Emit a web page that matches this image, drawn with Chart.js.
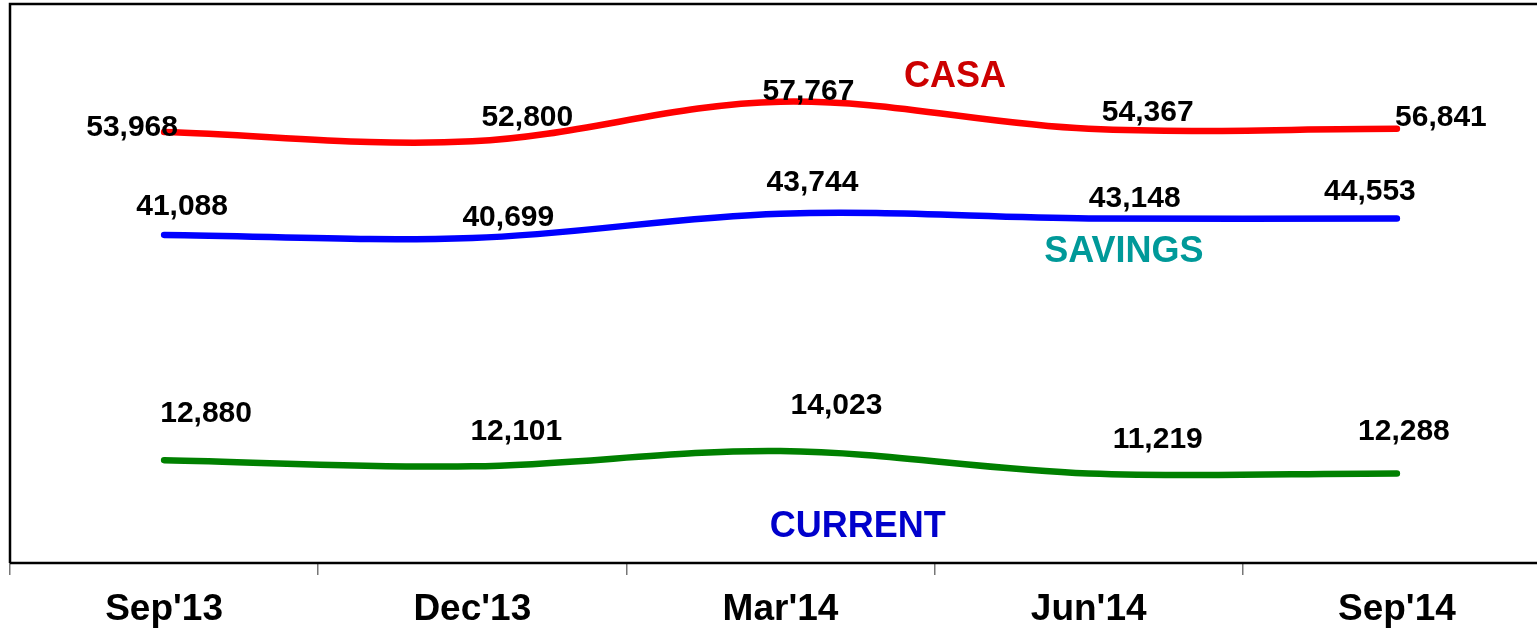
<!DOCTYPE html>
<html>
<head>
<meta charset="utf-8">
<script src="https://cdn.jsdelivr.net/npm/chart.js@4.4.1/dist/chart.umd.min.js"></script>
<style>
  html, body { margin: 0; padding: 0; background: #fff; overflow: hidden; }
  #wrap { width: 1537px; height: 630px; overflow: hidden; }
</style>
</head>
<body>
<div id="wrap"><canvas id="casaChart" width="1560" height="630"></canvas></div>
<script>
// === Datos ===
const quarters = ["Sep'13", "Dec'13", "Mar'14", "Jun'14", "Sep'14"];

// Posición de la línea; en la imagen el punto Sep'14 queda al nivel de Jun'14
const casa    = [53968, 52800, 57767, 54367, 54367];
const savings = [41088, 40699, 43744, 43148, 43148];
const current = [12880, 12101, 14023, 11219, 11219];

// Etiquetas de valor tal como aparecen
const casaLabels    = ["53,968", "52,800", "57,767", "54,367", "56,841"];
const savingsLabels = ["41,088", "40,699", "43,744", "43,148", "44,553"];
const currentLabels = ["12,880", "12,101", "14,023", "11,219", "12,288"];

const Y_MIN = 0, Y_MAX = 70000;

// --- estilo / ubicación de textos (no son datos) ---
const FONT = "'Liberation Sans', Arial, sans-serif";
// desplazamiento (px) de cada etiqueta respecto de su punto
const NUDGE = {
  casa:    [[-32, -4], [55, -24], [28, -10], [59, -16], [44, -11]],
  savings: [[18, -28], [36, -20], [32, -31], [46, -20], [-27, -27]],
  current: [[42, -46], [44, -35], [56, -45], [69, -34], [7, -42]]
};
// nombres de serie, ubicados en coordenadas de datos (índice de categoría, valor)
const SERIES_NAMES = [
  { text: "CASA",    color: "#CC0000", at: [2.566, 60900] },
  { text: "SAVINGS", color: "#009999", at: [3.114, 38900] },
  { text: "CURRENT", color: "#0000CC", at: [2.251, 4550] }
];

const frame = {
  id: "frame",
  afterDraw(chart){
    const { ctx, chartArea: a } = chart;
    ctx.save();
    ctx.strokeStyle = "#000";
    ctx.lineWidth = 2.5;
    ctx.beginPath();
    ctx.moveTo(a.left, a.bottom);
    ctx.lineTo(a.left, a.top);
    ctx.lineTo(a.right, a.top);
    ctx.moveTo(a.left, a.bottom);
    ctx.lineTo(a.right, a.bottom);
    ctx.stroke();
    ctx.restore();
  }
};

const valueLabels = {
  id: "valueLabels",
  afterDatasetsDraw(chart){
    const { ctx, scales } = chart;
    ctx.save();
    ctx.textAlign = "center";
    ctx.textBaseline = "middle";
    chart.data.datasets.forEach((ds, di) => {
      const meta = chart.getDatasetMeta(di);
      ctx.font = "bold 30px " + FONT;
      ctx.fillStyle = "#000";
      meta.data.forEach((pt, i) => {
        const [dx, dy] = NUDGE[ds.key][i];
        ctx.fillText(ds.texts[i], pt.x + dx, pt.y + dy);
      });
    });
    ctx.font = "bold 36px " + FONT;
    SERIES_NAMES.forEach(n => {
      ctx.fillStyle = n.color;
      ctx.fillText(n.text, scales.x.getPixelForValue(n.at[0]), scales.y.getPixelForValue(n.at[1]));
    });
    ctx.restore();
  }
};

function lineSet(key, data, texts, color){
  return {
    key, texts, data,
    borderColor: color,
    borderWidth: 6.5,
    borderCapStyle: "round",
    pointRadius: 0,
    tension: 0.35,
    fill: false
  };
}

new Chart(document.getElementById("casaChart").getContext("2d"), {
  type: "line",
  data: {
    labels: quarters,
    datasets: [
      lineSet("casa", casa, casaLabels, "#FF0000"),
      lineSet("savings", savings, savingsLabels, "#0000FF"),
      lineSet("current", current, currentLabels, "#008000")
    ]
  },
  options: {
    responsive: false,
    animation: false,
    layout: { padding: { left: 10, right: 9, top: 4, bottom: 0 } },
    plugins: { legend: { display: false }, tooltip: { enabled: false } },
    scales: {
      x: {
        offset: true,
        border: { display: false },
        grid: { offset: true, drawOnChartArea: false, drawTicks: true, tickLength: 12, color: "#777", lineWidth: 1.5 },
        ticks: { color: "#000", padding: 13, font: { family: FONT, size: 37, weight: "bold" }, maxRotation: 0 },
        afterFit(scale){ scale.height = 67; }
      },
      y: {
        display: false,
        min: Y_MIN,
        max: Y_MAX
      }
    }
  },
  plugins: [frame, valueLabels]
});
</script>
</body>
</html>
